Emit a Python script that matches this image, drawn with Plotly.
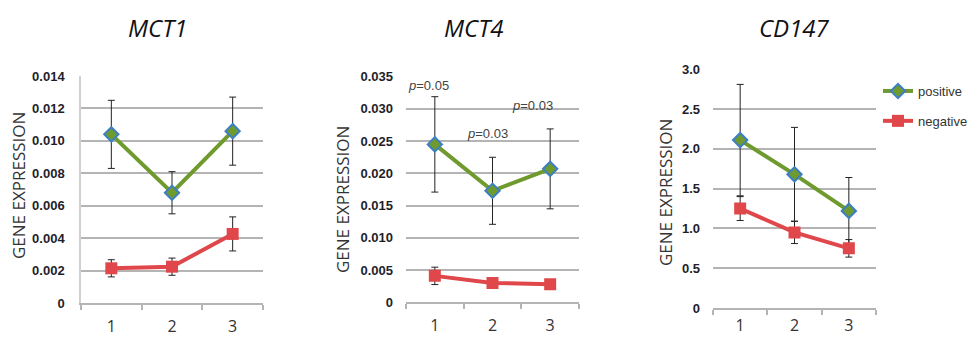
import plotly.graph_objects as go

categories = [1, 2, 3]
cat_labels = ["1", "2", "3"]
series_names = ["positive", "negative"]
panel_titles = ["MCT1", "MCT4", "CD147"]

mct1_pos = [0.0104, 0.0068, 0.0106]
mct1_pos_err = [0.0021, 0.0013, 0.0021]
mct1_neg = [0.00214, 0.00224, 0.00426]
mct1_neg_err = [0.00053, 0.00053, 0.00105]

mct4_pos = [0.0245, 0.0173, 0.0207]
mct4_pos_err = [0.0074, 0.0052, 0.0062]
mct4_neg = [0.0041, 0.0030, 0.0028]
mct4_neg_err = [0.00135, 0.0004, 0.0003]

cd147_pos = [2.11, 1.68, 1.22]
cd147_pos_err = [0.70, 0.59, 0.42]
cd147_neg = [1.25, 0.95, 0.75]
cd147_neg_err = [0.15, 0.14, 0.11]

mct1_ticks = [0, 0.002, 0.004, 0.006, 0.008, 0.010, 0.012, 0.014]
mct1_ticktext = ["0", "0.002", "0.004", "0.006", "0.008", "0.010", "0.012", "0.014"]
mct4_ticks = [0, 0.005, 0.010, 0.015, 0.020, 0.025, 0.030, 0.035]
mct4_ticktext = ["0", "0.005", "0.010", "0.015", "0.020", "0.025", "0.030", "0.035"]
cd147_ticks = [0, 0.5, 1.0, 1.5, 2.0, 2.5, 3.0]
cd147_ticktext = ["0", "0.5", "1.0", "1.5", "2.0", "2.5", "3.0"]

pvals_text = ["0.05", "0.03", "0.03"]
pvals_x = [0.89, 1.92, 2.7]
pvals_y = [0.0337, 0.0262, 0.0306]

W, H = 968, 338
GREEN = "#6e9a2e"
RED = "#e0474b"
BLUE = "#3d7fc4"
GRID = "#b4b4b4"

panels = [
    dict(pos=mct1_pos, pe=mct1_pos_err, neg=mct1_neg, ne=mct1_neg_err,
         ticks=mct1_ticks, tt=mct1_ticktext, rng=[0, 0.014],
         xpx=(81, 263), ypx=(76, 303), leftline=True, ylab_x=18, ylab_y=186,
         title_x=157, lab_standoff=8),
    dict(pos=mct4_pos, pe=mct4_pos_err, neg=mct4_neg, ne=mct4_neg_err,
         ticks=mct4_ticks, tt=mct4_ticktext, rng=[0, 0.035],
         xpx=(406, 579), ypx=(76.7, 302.3), leftline=False, ylab_x=342, ylab_y=200,
         title_x=473, lab_standoff=8),
    dict(pos=cd147_pos, pe=cd147_pos_err, neg=cd147_neg, ne=cd147_neg_err,
         ticks=cd147_ticks, tt=cd147_ticktext, rng=[0, 3.0],
         xpx=(713, 876), ypx=(69.3, 308), leftline=False, ylab_x=665, ylab_y=193,
         title_x=794, lab_standoff=2),
]

fig = go.Figure()
layout = dict(width=W, height=H, margin=dict(l=0, r=0, t=0, b=0, pad=0, autoexpand=False),
              paper_bgcolor="white", plot_bgcolor="white",
              font=dict(family="Open Sans", color="#333"))
annotations = []

for i, p in enumerate(panels):
    n = "" if i == 0 else str(i + 1)
    xa, ya = "x" + n, "y" + n
    show = (i == 2)
    fig.add_trace(go.Scatter(
        x=categories, y=p["pos"], mode="lines+markers", name=series_names[0],
        xaxis=xa, yaxis=ya, showlegend=show, legendgroup="pos",
        line=dict(color=GREEN, width=4),
        marker=dict(symbol="diamond", size=11, color=GREEN, line=dict(color=BLUE, width=2)),
        error_y=dict(type="data", array=p["pe"], color="#222", thickness=1, width=3.5)))
    fig.add_trace(go.Scatter(
        x=categories, y=p["neg"], mode="lines+markers", name=series_names[1],
        xaxis=xa, yaxis=ya, showlegend=show, legendgroup="neg",
        line=dict(color=RED, width=4),
        marker=dict(symbol="square", size=12, color=RED),
        error_y=dict(type="data", array=p["ne"], color="#222", thickness=1, width=3.5)))

    x0, x1 = p["xpx"]
    yt, yb = p["ypx"]
    layout["xaxis" + n] = dict(
        domain=[x0 / W, x1 / W], range=[0.5, 3.5], anchor=ya,
        tickvals=categories, ticktext=cat_labels, ticks="",
        showgrid=False, zeroline=False, showline=True, linecolor=GRID, linewidth=1.5,
        tickfont=dict(size=16, color="#333", family="Open Sans"),
        ticklabelstandoff=p["lab_standoff"], automargin=False,
        minor=dict(tickvals=[0.5, 1.5, 2.5, 3.5], ticks="outside", ticklen=5,
                   tickcolor=GRID, tickwidth=1.5, showgrid=False),
        fixedrange=True)
    layout["yaxis" + n] = dict(
        domain=[1 - yb / H, 1 - yt / H], range=p["rng"], anchor=xa,
        tickvals=p["ticks"], ticktext=["<b>%s</b>" % t for t in p["tt"]], ticks="",
        showgrid=True, gridcolor=GRID, gridwidth=1.5, zeroline=False,
        showline=p["leftline"], linecolor="#d0d0d0", linewidth=1.5,
        tickfont=dict(size=13, color="#1e1e2a", family="Liberation Sans"),
        ticklabelstandoff=12, automargin=False, fixedrange=True)

    annotations.append(dict(
        text="<i>%s</i>" % panel_titles[i], xref="paper", yref="paper",
        x=p["title_x"] / W, y=1 - 28 / H, showarrow=False, xanchor="center", yanchor="middle",
        font=dict(size=24, color="#111", family="Open Sans")))
    annotations.append(dict(
        text="GENE EXPRESSION", xref="paper", yref="paper",
        x=p["ylab_x"] / W, y=1 - p["ylab_y"] / H, textangle=-90, showarrow=False,
        xanchor="center", yanchor="middle",
        font=dict(size=17, color="#333", family="Open Sans")))

for t, px, py in zip(pvals_text, pvals_x, pvals_y):
    annotations.append(dict(
        text="<i>p</i>=%s" % t, xref="x2", yref="y2", x=px, y=py, showarrow=False,
        xanchor="center", yanchor="middle",
        font=dict(size=13, color="#444", family="Liberation Sans")))

layout["annotations"] = annotations
layout["showlegend"] = True
layout["legend"] = dict(x=878 / W, y=1 - 76 / H, xanchor="left", yanchor="top",
                        bgcolor="rgba(0,0,0,0)", font=dict(size=13, color="#333", family="Liberation Sans"),
                        tracegroupgap=10, traceorder="grouped", itemwidth=30)
fig.update_layout(**layout)
fig.write_html("out.html", config={"displayModeBar": False, "responsive": False},
               post_script="document.body.style.margin='0';document.body.style.overflow='hidden';")
